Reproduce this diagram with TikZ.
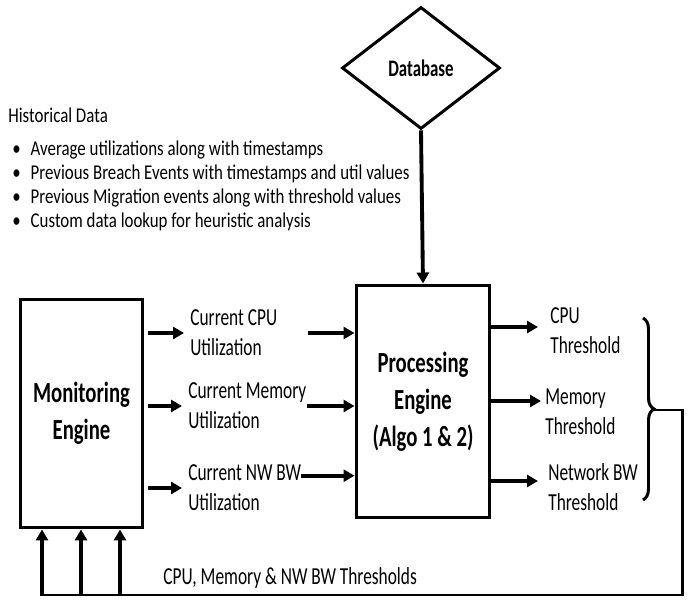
\documentclass[tikz,border=0pt]{standalone}
\usepackage{fontspec}
\setmainfont{Carlito}[FakeStretch=0.71]
\newfontfamily\histfont{Carlito}[FakeStretch=0.80]
\usetikzlibrary{shapes.geometric,arrows.meta,positioning,decorations.pathreplacing,calc}
\tikzset{every picture/.style={/utils/exec={\rmfamily}}}
\tikzset{
	auto, node distance =1 cm and 1 cm, line join=miter,
}

\begin{document}
\begin{tikzpicture}[
	x=0.02cm, y=-0.02cm,
	engine/.style={draw, line width=1.7pt, minimum width=2.46cm, minimum height=4.58cm, align=center, font=\fontsize{16.6}{21}\selectfont\bfseries},
	store/.style={draw, diamond, line width=1.7pt, minimum width=3.16cm, minimum height=2.44cm, inner sep=0pt, font=\fontsize{13.5}{15}\selectfont\bfseries},
	metric/.style={align=left, anchor=west, inner sep=0pt, font=\fontsize{13.9}{17}\selectfont},
	feed/.style={-{Triangle[length=0.22cm,width=0.24cm]}, line width=2.2pt},
	loop/.style={line width=1.7pt},
	]
	\useasboundingbox (0,0) rectangle (690,601);

	%database
	\node[store] (db) at (421,68) {Database};
	%history
	\node[metric, anchor=north west, font=\histfont\fontsize{12}{13.6}\selectfont] (hist) at (8,108)
		{Historical Data\\[5pt]
		\hspace*{0.08cm}\textbullet\hspace{0.2cm}Average utilizations along with timestamps\\
		\hspace*{0.08cm}\textbullet\hspace{0.2cm}Previous Breach Events with timestamps and util values\\
		\hspace*{0.08cm}\textbullet\hspace{0.2cm}Previous Migration events along with threshold values\\
		\hspace*{0.08cm}\textbullet\hspace{0.2cm}Custom data lookup for heuristic analysis};
	%engines
	\node[engine] (mon) at (81.5,413.5) {Monitoring\\Engine};
	\node[engine, minimum width=2.68cm, minimum height=4.66cm] (proc) at (423,401.5) {Processing\\Engine\\(Algo 1 \& 2)};
	%current utilizations
	\node[metric] (cpu) at (190,333) {Current CPU\\Utilization};
	\node[metric] (mem) at (188,406) {Current Memory\\Utilization};
	\node[metric] (nw) at (188,488) {Current NW BW\\Utilization};
	%thresholds
	\node[metric] (tcpu) at (550,331) {CPU\\Threshold};
	\node[metric] (tmem) at (545,412) {Memory\\Threshold};
	\node[metric] (tnw) at (548,487) {Network BW\\Threshold};
	\node[metric] (back) at (163,578) {CPU, Memory \& NW BW Thresholds};

	%straight paths
	\draw[feed] (db.south) -- (proc.north);
	\draw[feed] (mon.east |- cpu.west) ++(4,0) -- ($(cpu.west)+(-6,0)$);
	\draw[feed] (mon.east |- mem.west) ++(4,0) -- ($(mem.west)+(-6,0)$);
	\draw[feed] (mon.east |- nw.west) ++(4,0) -- ($(nw.west)+(-6,0)$);
	\draw[feed] (308,333) -- (cpu.west -| proc.west);
	\draw[feed] (mem.east) -- (mem.east -| proc.west);
	\draw[feed] ([yshift=-0.22cm]nw.north east) -- ([yshift=-0.22cm]nw.north east -| proc.west);
	\draw[feed] (proc.east |- 0,327) -- ($(tcpu.west |- 0,327)+(-12,0)$);
	\draw[feed] (proc.east |- 0,401) -- ($(tmem.west |- 0,401)+(-4,0)$);
	\draw[feed] (proc.east |- 0,481) -- ($(tnw.west |- 0,481)+(-10,0)$);

	%feedback loop
	\draw[loop, decorate, decoration={brace, amplitude=0.22cm}] (643,318) -- (643,500);
	\coordinate (tip) at (654,410);
	\coordinate (corner) at (682,595);
	\draw[loop] (tip) -| (corner) -- (40,595);
	\foreach \x in {42,81,120}
		\draw[feed] (\x,596) -- (mon.south -| \x,0);

\end{tikzpicture}
\end{document}
